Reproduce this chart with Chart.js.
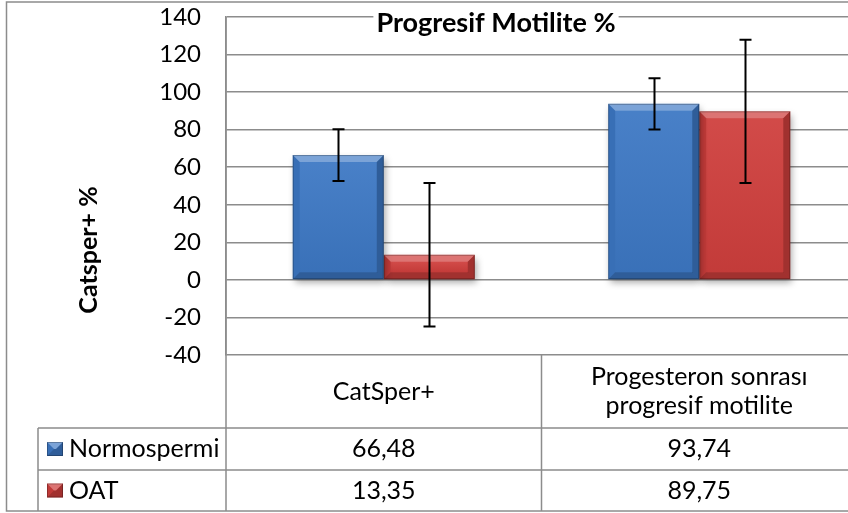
<!DOCTYPE html>
<html><head><meta charset="utf-8">
<script src="https://cdn.jsdelivr.net/npm/chart.js@4.4.1/dist/chart.umd.min.js"></script>
<style>
html,body{margin:0;padding:0;background:#fff;overflow:hidden;}
#wrap{width:848px;height:513px;overflow:hidden;position:relative;}
canvas{display:block;}
</style></head><body>
<div id="wrap"><canvas id="c" width="870" height="513"></canvas></div>
<script>
// ---- data ----
const categories = ["CatSper+", ["Progesteron sonrası", "progresif motilite"]];
const seriesNames = ["Normospermi", "OAT"];
const normospermi = [66.48, 93.74];
const oat = [13.35, 89.75];
const normospermiErr = [13.8, 13.6];
const oatErr = [38.2, 38.1];
const yMin = -40, yMax = 140, yStep = 20;
const chartTitle = "Progresif Motilite %";
const yTitle = "Catsper+ %";

// ---- style ----
const FONT = "Lato, 'Open Sans', sans-serif";
const GRID = "#8c8c8c";
const colors = [
  {body: "#3d78c4", light: "rgba(255,255,255,0.32)", dark: "rgba(0,0,0,0.22)"},
  {body: "#cf3f3d", light: "rgba(255,255,255,0.28)", dark: "rgba(0,0,0,0.22)"}
];
const errs = [normospermiErr, oatErr];
const values = [normospermi, oat];

function fmt(v){ return v.toFixed(2).replace('.', ','); }

function drawBevel(ctx, l, t, r, b, c) {
  const s = Math.min(7, (b - t) / 2, (r - l) / 2);
  ctx.save();
  ctx.fillStyle = c.light;
  ctx.beginPath(); ctx.moveTo(l, t); ctx.lineTo(r, t); ctx.lineTo(r - s, t + s); ctx.lineTo(l + s, t + s); ctx.closePath(); ctx.fill();
  ctx.fillStyle = "rgba(0,0,0,0.07)";
  ctx.beginPath(); ctx.moveTo(l, t); ctx.lineTo(l + s, t + s); ctx.lineTo(l + s, b - s); ctx.lineTo(l, b); ctx.closePath(); ctx.fill();
  ctx.fillStyle = c.dark;
  ctx.beginPath(); ctx.moveTo(r, t); ctx.lineTo(r - s, t + s); ctx.lineTo(r - s, b - s); ctx.lineTo(r, b); ctx.closePath(); ctx.fill();
  ctx.fillStyle = c.dark;
  ctx.beginPath(); ctx.moveTo(l, b); ctx.lineTo(l + s, b - s); ctx.lineTo(r - s, b - s); ctx.lineTo(r, b); ctx.closePath(); ctx.fill();
  const g = ctx.createLinearGradient(0, t + s, 0, b - s);
  g.addColorStop(0, "rgba(255,255,255,0.06)");
  g.addColorStop(1, "rgba(0,0,0,0.06)");
  ctx.fillStyle = g;
  ctx.fillRect(l + s, t + s, r - l - 2 * s, b - t - 2 * s);
  ctx.strokeStyle = "rgba(0,0,0,0.25)";
  ctx.lineWidth = 1;
  ctx.strokeRect(l + 0.5, t + 0.5, r - l - 1, b - t - 1);
  ctx.restore();
}

const decor = {
  id: 'decor',
  beforeDatasetDraw(chart) {
    const ctx = chart.ctx;
    ctx.save();
    ctx.shadowColor = "rgba(0,0,0,0.35)";
    ctx.shadowBlur = 7;
    ctx.shadowOffsetX = 2;
    ctx.shadowOffsetY = 4;
  },
  afterDatasetDraw(chart) {
    chart.ctx.restore();
  },
  afterDatasetsDraw(chart) {
    const ctx = chart.ctx;
    const y = chart.scales.y;
    chart.data.datasets.forEach((ds, di) => {
      const meta = chart.getDatasetMeta(di);
      meta.data.forEach((bar) => {
        const p = bar.getProps(['x', 'y', 'base', 'width'], true);
        const l = p.x - p.width / 2, r = p.x + p.width / 2;
        const t = Math.min(p.y, p.base), b = Math.max(p.y, p.base);
        drawBevel(ctx, l, t, r, b, colors[di]);
      });
    });
    chart.data.datasets.forEach((ds, di) => {
      const meta = chart.getDatasetMeta(di);
      meta.data.forEach((bar, i) => {
        const v = values[di][i], e = errs[di][i];
        const yt = y.getPixelForValue(v + e), yb = y.getPixelForValue(v - e);
        const x = Math.round(bar.x) + 0.5;
        ctx.save();
        ctx.strokeStyle = "#000";
        ctx.lineWidth = 2;
        ctx.beginPath();
        ctx.moveTo(x, yt); ctx.lineTo(x, yb);
        ctx.moveTo(x - 6, yt); ctx.lineTo(x + 6, yt);
        ctx.moveTo(x - 6, yb); ctx.lineTo(x + 6, yb);
        ctx.stroke();
        ctx.restore();
      });
    });
  },
  afterDraw(chart) {
    const ctx = chart.ctx;
    const a = chart.chartArea;
    const xs = chart.scales.x;
    const H = chart.height;
    const tableBottom = H - 2;
    const row1 = 428, row2 = 470;
    const legLeft = 38;
    ctx.save();
    ctx.strokeStyle = GRID;
    ctx.lineWidth = 1.5;
    ctx.strokeRect(6.5, 2, chart.width, tableBottom - 2);
    ctx.beginPath();
    ctx.moveTo(a.left, a.top); ctx.lineTo(a.left, tableBottom);
    const n = chart.data.labels.length;
    const catW = (a.right - a.left) / n;
    for (let i = 1; i < n; i++) {
      const x = a.left + catW * i;
      ctx.moveTo(x, a.bottom); ctx.lineTo(x, tableBottom);
    }
    ctx.moveTo(legLeft, row1); ctx.lineTo(a.right, row1);
    ctx.moveTo(legLeft, row2); ctx.lineTo(a.right, row2);
    ctx.moveTo(legLeft, row1); ctx.lineTo(legLeft, tableBottom);
    ctx.stroke();

    ctx.fillStyle = "#000";
    ctx.font = "25px " + FONT;
    ctx.textAlign = "center";
    ctx.textBaseline = "middle";
    chart.data.labels.forEach((lab, i) => {
      const cx = xs.getPixelForValue(i);
      const lines = Array.isArray(lab) ? lab : [lab];
      const lh = 29;
      const cy = (a.bottom + row1) / 2;
      lines.forEach((ln, k) => {
        ctx.fillText(ln, cx, cy + (k - (lines.length - 1) / 2) * lh);
      });
    });
    const rowCenters = [(row1 + row2) / 2, (row2 + tableBottom) / 2];
    chart.data.datasets.forEach((ds, di) => {
      const cy = rowCenters[di];
      ds.data.forEach((v, i) => {
        ctx.textAlign = "center";
        ctx.fillText(fmt(v), xs.getPixelForValue(i), cy);
      });
      const kx = 47, ky = cy - 7, kw = 16, kh = 14;
      ctx.fillStyle = colors[di].body;
      ctx.fillRect(kx, ky, kw, kh);
      drawBevel(ctx, kx, ky, kx + kw, ky + kh, colors[di]);
      ctx.fillStyle = "#000";
      ctx.textAlign = "left";
      ctx.fillText(ds.label, 69, cy);
    });

    // title with white backing
    ctx.font = "bold 27px " + FONT;
    ctx.textAlign = "center";
    const tw = ctx.measureText(chartTitle).width;
    ctx.fillStyle = "#fff";
    ctx.fillRect(496 - tw / 2 - 3, 8, tw + 6, 28);
    ctx.fillStyle = "#000";
    ctx.fillText(chartTitle, 496, 23);
    ctx.font = "bold 25px " + FONT;
    ctx.save();
    ctx.translate(89, 250);
    ctx.rotate(-Math.PI / 2);
    ctx.fillText(yTitle, 0, 0);
    ctx.restore();
    ctx.restore();
  }
};

new Chart(document.getElementById('c'), {
  type: 'bar',
  data: {
    labels: categories,
    datasets: [
      {label: seriesNames[0], data: normospermi, backgroundColor: colors[0].body},
      {label: seriesNames[1], data: oat, backgroundColor: colors[1].body}
    ]
  },
  options: {
    responsive: false,
    devicePixelRatio: 1,
    animation: false,
    events: [],
    layout: {padding: {top: 17, bottom: 2, left: 0, right: 13}},
    categoryPercentage: 0.577,
    barPercentage: 1,
    plugins: {legend: {display: false}, tooltip: {enabled: false}, title: {display: false}},
    scales: {
      x: {
        display: true,
        grid: {display: false, drawTicks: false},
        border: {display: false},
        ticks: {display: false},
        afterFit(s) { s.height = 156; s.paddingLeft = 0; s.paddingRight = 0; }
      },
      y: {
        min: yMin, max: yMax,
        ticks: {stepSize: yStep, color: "#000", font: {family: FONT, size: 24}, padding: 25},
        grid: {color: GRID, lineWidth: 1.5, drawTicks: false},
        border: {display: true, color: GRID, width: 1.5},
        afterFit(s) { s.width = 226; s.paddingTop = 0; s.paddingBottom = 0; }
      }
    }
  },
  plugins: [decor]
});
</script>
</body></html>
